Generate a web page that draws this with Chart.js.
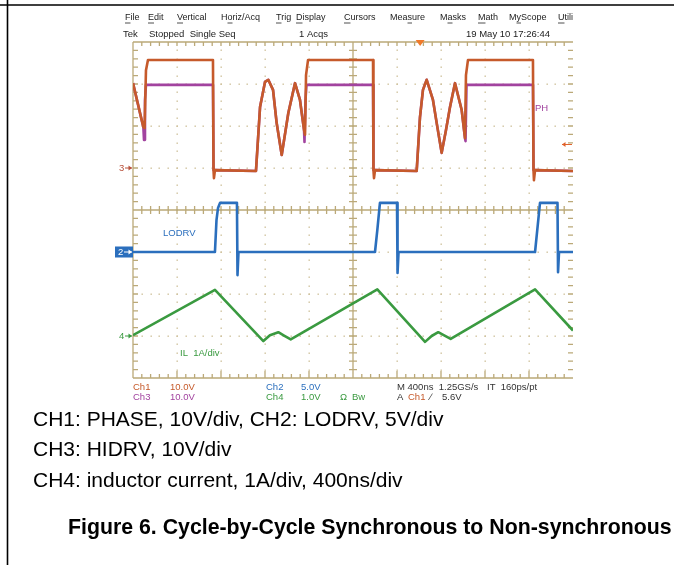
<!DOCTYPE html>
<html>
<head>
<meta charset="utf-8">
<script src="https://cdn.jsdelivr.net/npm/chart.js@4.4.0/dist/chart.umd.min.js"></script>
<style>
html, body { margin: 0; padding: 0; background: #fff; overflow: hidden; }
#wrap { position: relative; width: 674px; height: 565px; }
</style>
</head>
<body>
<div id="wrap"><canvas id="scope" width="674" height="565"></canvas></div>
<script>
// time in ns (400ns/div, 10 div), level in screen divisions (0 = centre line)
const ch1Time  = [0, 79, 94, 105, 118, 136, 727, 732, 736, 745, 1118, 1155, 1200, 1230, 1273, 1306, 1352, 1412, 1473, 1518, 1555, 1564, 1573, 1591, 2182, 2186, 2191, 2200, 2579, 2609, 2636, 2670, 2727, 2764, 2806, 2845, 2882, 2927, 2988, 3018, 3027, 3045, 3636, 3641, 3645, 3655, 4000];
const ch1Level = [3.02, 2.14, 1.98, 1.95, 3.33, 3.57, 3.57, 0.95, 0.76, 0.95, 0.93, 2.45, 3.05, 3.10, 2.86, 2.07, 1.31, 2.31, 3.02, 2.62, 1.90, 1.79, 3.21, 3.57, 3.57, 0.95, 0.76, 0.95, 0.93, 2.21, 2.86, 3.10, 2.62, 2.02, 1.36, 1.90, 2.45, 3.02, 2.38, 1.71, 3.21, 3.57, 3.57, 0.95, 0.71, 0.95, 0.93];

const ch3Time  = [0, 79, 94, 100, 109, 118, 727, 732, 745, 1118, 1155, 1200, 1230, 1273, 1306, 1352, 1412, 1473, 1518, 1555, 1559, 1568, 1577, 2182, 2186, 2200, 2579, 2609, 2636, 2670, 2727, 2764, 2806, 2845, 2882, 2927, 2988, 3018, 3023, 3032, 3636, 3641, 3655, 4000];
const ch3Level = [3.02, 2.14, 1.98, 1.67, 2.62, 2.98, 2.98, 0.95, 0.95, 0.93, 2.45, 3.05, 3.10, 2.86, 2.07, 1.31, 2.31, 3.02, 2.62, 1.90, 1.62, 2.62, 2.98, 2.98, 0.95, 0.95, 0.93, 2.21, 2.86, 3.10, 2.62, 2.02, 1.36, 1.90, 2.45, 3.02, 2.38, 1.71, 1.64, 2.98, 2.98, 0.95, 0.95, 0.93];

const ch2Time  = [0, 745, 759, 773, 791, 945, 950, 959, 2200, 2221, 2245, 2400, 2405, 2414, 3655, 3675, 3700, 3859, 3864, 3873, 4000];
const ch2Level = [-1.0, -1.0, -0.24, 0.05, 0.17, 0.17, -1.55, -1.0, -1.0, -0.48, 0.17, 0.17, -1.5, -1.0, -1.0, -0.48, 0.17, 0.17, -1.48, -1.0, -1.0];

const ch4Time  = [0, 745, 1185, 1245, 1321, 1373, 1434, 2221, 2655, 2715, 2775, 2833, 2888, 3655, 4000];
const ch4Level = [-2.98, -1.90, -3.12, -2.98, -2.91, -2.99, -3.08, -1.89, -3.14, -3.0, -2.91, -2.99, -3.07, -1.89, -2.87];

const menuItems = ['File', 'Edit', 'Vertical', 'Horiz/Acq', 'Trig', 'Display', 'Cursors', 'Measure', 'Masks', 'Math', 'MyScope', 'Utili'];
const menuX = [125, 148, 177, 221, 276, 296, 344, 390, 440, 478, 509, 558];
const menuUnder = [0, 0, 0, 1, 0, 0, 0, 3, 1, 0, 1, 0];

const captionLines = ['CH1: PHASE, 10V/div, CH2: LODRV, 5V/div', 'CH3: HIDRV, 10V/div', 'CH4: inductor current, 1A/div, 400ns/div'];
const figureTitle = 'Figure 6. Cycle-by-Cycle Synchronous to Non-synchronous';

const C_ORANGE = '#c65a2b';
const C_PURPLE = '#a2439f';
const C_BLUE = '#2b6fbd';
const C_GREEN = '#3a9a40';
const C_GRID = '#bba978';

const toPts = (t, v) => t.map((k, i) => ({x: k, y: v[i]}));

const graticule = {
    id: 'graticule',
    beforeDatasetsDraw: (chart) => {
        const ctx = chart.ctx;
        const {x, y} = chart.scales;
        const L = x.getPixelForValue(0), R = x.getPixelForValue(4000);
        const T = y.getPixelForValue(4), B = y.getPixelForValue(-4);
        const cx = x.getPixelForValue(2000), cy = y.getPixelForValue(0);
        ctx.save();
        // dotted division lines
        ctx.fillStyle = '#cfc29c';
        for (let d = 1; d < 10; d++) {
            if (d === 5) continue;
            const px = x.getPixelForValue(d * 400);
            for (let m = 1; m < 40; m++) {
                const py = y.getPixelForValue(-4 + m * 0.2);
                ctx.fillRect(Math.round(px) - 0.5, Math.round(py) - 0.5, 1.4, 1.4);
            }
        }
        for (let d = -3; d <= 3; d++) {
            if (d === 0) continue;
            const py = y.getPixelForValue(d);
            for (let m = 1; m < 50; m++) {
                const px = x.getPixelForValue(m * 80);
                ctx.fillRect(Math.round(px) - 0.5, Math.round(py) - 0.5, 1.4, 1.4);
            }
        }
        ctx.strokeStyle = C_GRID;
        ctx.lineWidth = 1.3;
        ctx.beginPath();
        // centre cross
        ctx.moveTo(L, cy); ctx.lineTo(R, cy);
        ctx.moveTo(cx, T); ctx.lineTo(cx, B);
        for (let m = 1; m < 50; m++) {
            const px = x.getPixelForValue(m * 80);
            ctx.moveTo(px, cy - 4); ctx.lineTo(px, cy + 4);
            ctx.moveTo(px, T); ctx.lineTo(px, T + 4);
            ctx.moveTo(px, B); ctx.lineTo(px, B - (m % 5 === 0 ? 7 : 4));
        }
        for (let m = 1; m < 40; m++) {
            const py = y.getPixelForValue(-4 + m * 0.2);
            ctx.moveTo(cx - 4, py); ctx.lineTo(cx + 4, py);
            ctx.moveTo(L, py); ctx.lineTo(L + 5, py);
            ctx.moveTo(R, py); ctx.lineTo(R - 5, py);
        }
        // frame (left, top, bottom)
        ctx.moveTo(L, T); ctx.lineTo(L, B);
        ctx.moveTo(L, T); ctx.lineTo(R, T);
        ctx.moveTo(L, B); ctx.lineTo(R, B);
        ctx.stroke();
        ctx.restore();
    }
};

const annotations = {
    id: 'annotations',
    afterDraw: (chart) => {
        const ctx = chart.ctx;
        const {x, y} = chart.scales;
        const L = x.getPixelForValue(0), R = x.getPixelForValue(4000);
        const T = y.getPixelForValue(4);
        ctx.save();
        // page frame
        ctx.strokeStyle = '#000';
        ctx.lineWidth = 1.6;
        ctx.beginPath();
        ctx.moveTo(0, 5); ctx.lineTo(674, 5);
        ctx.moveTo(7.5, 0); ctx.lineTo(7.5, 565);
        ctx.stroke();

        ctx.textBaseline = 'middle';
        ctx.textAlign = 'left';
        ctx.font = '9px "Liberation Sans", Arial, sans-serif';
        ctx.fillStyle = '#222';
        ctx.strokeStyle = '#222';
        ctx.lineWidth = 0.8;
        menuItems.forEach((m, i) => {
            ctx.fillText(m, menuX[i], 17.5);
            const k = menuUnder[i];
            const x0 = menuX[i] + ctx.measureText(m.slice(0, k)).width;
            const w = ctx.measureText(m[k]).width;
            ctx.beginPath();
            ctx.moveTo(x0, 23); ctx.lineTo(x0 + w, 23);
            ctx.stroke();
        });
        ctx.font = '9.5px "Liberation Sans", Arial, sans-serif';
        ctx.fillText('Tek', 123, 34);
        ctx.fillText('Stopped  Single Seq', 149, 34);
        ctx.fillText('1 Acqs', 299, 34);
        ctx.fillText('19 May 10 17:26:44', 466, 34);

        // trigger position marker
        const tx = x.getPixelForValue(2610);
        ctx.fillStyle = '#f07a2a';
        ctx.beginPath();
        ctx.moveTo(tx - 4.5, T - 2); ctx.lineTo(tx + 4.5, T - 2); ctx.lineTo(tx, T + 4);
        ctx.closePath(); ctx.fill();

        // channel ground markers
        const arrow = (x0, x1, py, col) => {
            ctx.strokeStyle = col; ctx.fillStyle = col; ctx.lineWidth = 1;
            ctx.beginPath(); ctx.moveTo(x0, py); ctx.lineTo(x1, py); ctx.stroke();
            const d = x1 > x0 ? -1 : 1;
            ctx.beginPath();
            ctx.moveTo(x1, py); ctx.lineTo(x1 + d * 3.5, py - 2.5); ctx.lineTo(x1 + d * 3.5, py + 2.5);
            ctx.closePath(); ctx.fill();
        };
        const y3 = y.getPixelForValue(1), y2 = y.getPixelForValue(-1), y4 = y.getPixelForValue(-3);
        ctx.fillStyle = '#b8503a';
        ctx.fillText('3', 119, y3 + 0.5);
        arrow(125, L - 1, y3, '#b8503a');
        ctx.fillStyle = C_BLUE;
        ctx.fillRect(115, y2 - 5.5, L - 115, 11);
        ctx.fillStyle = '#fff';
        ctx.fillText('2', 118, y2 + 0.5);
        arrow(124, L - 1, y2, '#fff');
        ctx.fillStyle = C_GREEN;
        ctx.fillText('4', 119, y4 + 0.5);
        arrow(125, L - 1, y4, C_GREEN);
        arrow(R - 1, R - 11, y.getPixelForValue(1.56), '#e0602a');

        // trace labels
        ctx.fillStyle = C_BLUE;
        ctx.fillText('LODRV', 163, 233);
        ctx.fillStyle = C_GREEN;
        ctx.fillText('IL  1A/div', 180, 353);
        ctx.fillStyle = C_PURPLE;
        ctx.fillText('PH', 535, 108);

        // readout
        const r1 = 387.5, r2 = 397;
        ctx.fillStyle = C_ORANGE;
        ctx.fillText('Ch1', 133, r1); ctx.fillText('10.0V', 170, r1);
        ctx.fillStyle = C_PURPLE;
        ctx.fillText('Ch3', 133, r2); ctx.fillText('10.0V', 170, r2);
        ctx.fillStyle = C_BLUE;
        ctx.fillText('Ch2', 266, r1); ctx.fillText('5.0V', 301, r1);
        ctx.fillStyle = C_GREEN;
        ctx.fillText('Ch4', 266, r2); ctx.fillText('1.0V', 301, r2);
        ctx.fillText('\u03A9', 340, r2); ctx.fillText('Bw', 352, r2);
        ctx.fillStyle = '#333';
        ctx.fillText('M 400ns  1.25GS/s', 397, r1);
        ctx.fillText('IT  160ps/pt', 487, r1);
        ctx.fillText('A', 397, r2);
        ctx.fillStyle = C_ORANGE;
        ctx.fillText('Ch1', 408, r2);
        ctx.fillStyle = '#333';
        ctx.fillText('\u2215', 430, r2);
        ctx.fillText('5.6V', 442, r2);

        // caption
        ctx.fillStyle = '#000';
        ctx.font = '21px "Liberation Sans", Arial, sans-serif';
        captionLines.forEach((s, i) => ctx.fillText(s, 33, 420 + i * 30.5));
        ctx.font = 'bold 21.3px "Liberation Sans", Arial, sans-serif';
        ctx.fillText(figureTitle, 68, 528);
        ctx.restore();
    }
};

const trace = (data, color) => ({
    data: data,
    borderColor: color,
    borderWidth: 2.6,
    pointRadius: 0,
    fill: false,
    tension: 0,
    borderJoinStyle: 'round'
});

new Chart(document.getElementById('scope'), {
    type: 'line',
    data: {
        datasets: [
            trace(toPts(ch1Time, ch1Level), C_ORANGE),
            trace(toPts(ch3Time, ch3Level), C_PURPLE),
            trace(toPts(ch2Time, ch2Level), C_BLUE),
            trace(toPts(ch4Time, ch4Level), C_GREEN)
        ]
    },
    options: {
        responsive: false,
        animation: false,
        layout: {padding: {left: 133, right: 101, top: 42, bottom: 187}},
        plugins: {legend: {display: false}, tooltip: {enabled: false}},
        scales: {
            x: {type: 'linear', min: 0, max: 4000, display: false},
            y: {type: 'linear', min: -4, max: 4, display: false}
        }
    },
    plugins: [graticule, annotations]
});
</script>
</body>
</html>
